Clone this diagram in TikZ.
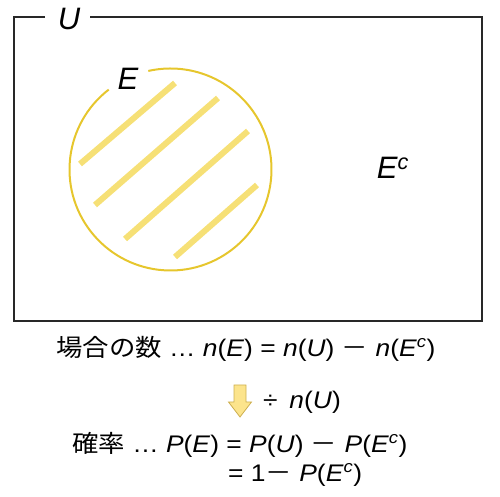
\documentclass[tikz,border=0pt]{standalone}
\usepackage{fontspec}
\setmainfont{Liberation Sans}
\newfontfamily\jp{Noto Sans CJK JP}
\newcommand{\vi}[1]{\textit{#1}}
\newcommand{\cmp}{\vi{E}\textsuperscript{\vi{c}}}
\newcommand{\wide}[1]{\scalebox{1.1}[1]{#1}}
\definecolor{frame}{RGB}{40,40,40}
\definecolor{ring}{RGB}{230,198,45}
\definecolor{stripe}{RGB}{246,224,118}
\definecolor{arrowfill}{RGB}{252,228,140}
\definecolor{arrowline}{RGB}{205,175,80}
\tikzset{
  setlabel/.style={font=\fontsize{31}{35}\selectfont\itshape, inner sep=0pt},
  eqline/.style={font=\fontsize{24}{28}\selectfont, anchor=west, inner sep=0pt},
  hatch/.style={stripe, line width=6pt},
}
\begin{document}
\begin{tikzpicture}[x=1pt,y=1pt]
\useasboundingbox (0,0) rectangle (500,497);

% universal set
\draw[frame, line width=2pt] (45,480) -- (14,480) -- (14,176) -- (482,176) -- (482,480) -- (90,480);
\node[setlabel] (U) at (69,478) {U};

% event E
\coordinate (ctr) at (170.5,327.5);
\draw[ring, line width=2pt] (ctr) ++(127.7:101) arc[start angle=127.7, end angle=462.7, radius=101];
\node[setlabel] (E) at (128,418) {E};
\draw[hatch] (80,333) -- (175,414);
\draw[hatch] (95,292) -- (218,399);
\draw[hatch] (125,258) -- (248,366);
\draw[hatch] (175,240) -- (257,312);

\node[setlabel] (Ec) at (393,329) {E\textsuperscript{c}};

% equations
\node[eqline] (count) at (56,148) {\wide{{\jp 場合の数} … \vi{n}(\vi{E}) = \vi{n}(\vi{U}) {\jp －} \vi{n}(\cmp)}};
\draw[arrowline, fill=arrowfill, line width=0.8pt]
  (234,112) -- (246,112) -- (246,95) -- (251.5,95) -- (240,80) -- (228.5,95) -- (234,95) -- cycle;
\node[eqline] (div) at (263,95) {\wide{÷\, \vi{n}(\vi{U})}};
\node[eqline] (prob) at (72,52) {\wide{{\jp 確率} … \vi{P}(\vi{E}) = \vi{P}(\vi{U}) {\jp －} \vi{P}(\cmp)}};
\node[eqline] (prob2) at (228,22) {\wide{= 1{\jp －} \vi{P}(\cmp)}};
\end{tikzpicture}
\end{document}
